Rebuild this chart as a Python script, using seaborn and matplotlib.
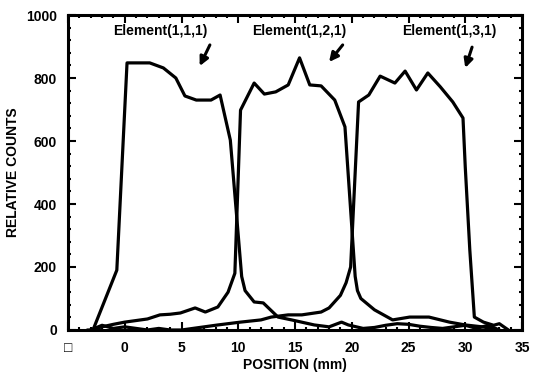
import matplotlib
matplotlib.use('Agg')
import pandas as pd
import matplotlib.pyplot as plt
import seaborn as sns
from matplotlib.ticker import MultipleLocator, FuncFormatter

# element (1,1,1)
x_e1 = [-3.3, -2.8, -0.7, 0.2, 2.2, 3.4, 4.5, 5.3, 6.3, 7.6, 8.4, 9.3, 10.3, 10.6, 11.4, 12.2,
        13.5, 14.7, 16.7, 18.0, 19.1, 19.7, 21.0, 22.0, 23.0, 24.0, 25.0, 26.0, 27.0, 28.0,
        29.0, 30.0, 31.0, 32.0, 33.0]
y_e1 = [0, 0, 190, 848, 848, 832, 800, 743, 730, 730, 746, 603, 170, 125, 89, 86,
        41, 32, 16, 10, 25, 16, 5, 8, 15, 20, 18, 12, 8, 5,
        10, 15, 5, 15, 0]

# element (1,2,1)
x_e2 = [-3.0, -2.0, -1.0, 0.0, 1.0, 2.0, 3.1, 4.0, 4.9, 6.2, 7.1, 8.2, 9.1, 9.7, 10.2, 11.4,
        12.3, 13.3, 14.4, 15.4, 16.3, 17.3, 18.5, 19.4, 20.3, 20.5, 20.8, 22.0, 23.6, 25.1,
        26.8, 28.6, 30.0, 31.5, 33.0]
y_e2 = [0, 10, 18, 25, 30, 35, 48, 50, 54, 70, 57, 73, 120, 180, 698, 784,
        749, 756, 778, 864, 778, 775, 730, 645, 170, 125, 100, 64, 32, 41,
        41, 25, 16, 10, 0]

# element (1,3,1)
x_e3 = [-3.0, -2.0, -1.0, 0.0, 1.0, 2.0, 3.0, 4.0, 5.0, 6.0, 7.0, 8.2, 10.2, 12.0, 12.9, 14.4,
        15.6, 17.3, 18.0, 19.0, 19.5, 19.9, 20.6, 21.5, 22.5, 23.8, 24.7, 25.7, 26.7, 27.8,
        28.9, 29.8, 30.0, 30.4, 30.8, 31.6, 32.5, 33.0, 33.8]
y_e3 = [0, 15, 5, 10, 5, 0, 5, 0, 0, 5, 10, 16, 25, 32, 41, 48,
        48, 57, 70, 110, 150, 200, 724, 746, 806, 784, 822, 762, 816, 772,
        724, 673, 517, 254, 41, 25, 15, 20, 0]

labels = ['Element(1,1,1)', 'Element(1,2,1)', 'Element(1,3,1)']
label_x = [3.1, 15.4, 28.6]
arrow_tail = [(7.5, 905), (19.2, 905), (30.6, 898)]
arrow_head = [(6.6, 838), (18.0, 851), (30.0, 832)]

sns.set_style('ticks', {'axes.edgecolor': 'black', 'text.color': 'black',
                        'xtick.color': 'black', 'ytick.color': 'black',
                        'axes.labelcolor': 'black'})
plt.rcParams['font.family'] = ['Liberation Sans', 'DejaVu Sans']
plt.rcParams['font.weight'] = 'bold'
plt.rcParams['axes.labelweight'] = 'bold'

frame = pd.concat([
    pd.DataFrame({'pos': x_e1, 'counts': y_e1, 'element': labels[0]}),
    pd.DataFrame({'pos': x_e2, 'counts': y_e2, 'element': labels[1]}),
    pd.DataFrame({'pos': x_e3, 'counts': y_e3, 'element': labels[2]}),
])

fig = plt.figure(figsize=(5.33, 3.83), dpi=100)
ax = fig.add_axes([0.1276, 0.1384, 0.8518, 0.8224])

sns.lineplot(data=frame, x='pos', y='counts', units='element', estimator=None,
             sort=False, color='black', linewidth=2.3, ax=ax, legend=False)

ax.set_xlim(-5, 35)
ax.set_ylim(0, 1000)
ax.xaxis.set_major_locator(MultipleLocator(5))
ax.xaxis.set_minor_locator(MultipleLocator(1))
ax.yaxis.set_major_locator(MultipleLocator(200))
ax.yaxis.set_minor_locator(MultipleLocator(40))
ax.xaxis.set_major_formatter(FuncFormatter(lambda v, p: '\u25a1' if v < 0 else '%d' % v))

ax.tick_params(which='major', direction='in', length=6, width=1.5, labelsize=10,
               top=True, right=True, pad=8)
ax.tick_params(which='minor', direction='in', length=2.5, width=1.5, top=True, right=True)
for side in ax.spines.values():
    side.set_linewidth(2.2)
    side.set_visible(True)

ax.set_xlabel('POSITION (mm)', fontsize=10, labelpad=2)
ax.set_ylabel('RELATIVE COUNTS', fontsize=10, labelpad=4)

for lab, lx, tail, head in zip(labels, label_x, arrow_tail, arrow_head):
    ax.text(lx, 950, lab, ha='center', va='center', fontsize=10)
    ax.annotate('', xy=head, xytext=tail,
                arrowprops=dict(arrowstyle='-|>', color='black', lw=2.2,
                                mutation_scale=13, shrinkA=0, shrinkB=0))

fig.savefig('out.png', dpi=100)
